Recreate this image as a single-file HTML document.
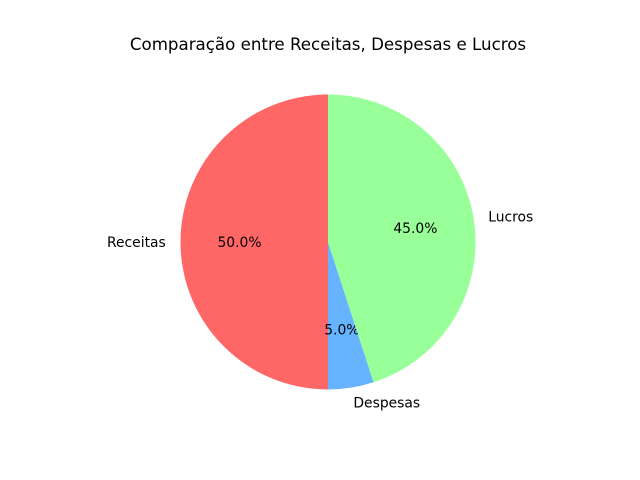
<!DOCTYPE html>
<html>
<head>
<meta charset="utf-8">
<style>
  html,body{margin:0;padding:0;background:#fff;}
  svg{display:block;font-family:"DejaVu Sans","Liberation Sans",sans-serif;}
</style>
</head>
<body>
<svg id="chart" width="640" height="480" viewBox="0 0 640 480">
  <text x="328" y="50" text-anchor="middle" font-size="16.67" fill="#000">Comparação entre Receitas, Despesas e Lucros</text>
</svg>
<script>
const categories = ["Receitas", "Despesas", "Lucros"];
const values = [50, 5, 45];
const pctLabels = ["50.0%", "5.0%", "45.0%"];
const colors = ["#ff6666", "#66b3ff", "#99ff99"];

const svg = document.getElementById('chart');
const NS = 'http://www.w3.org/2000/svg';
const cx = 328, cy = 242, r = 147.5;
const total = values.reduce((a, b) => a + b, 0);
function pt(deg, rad) {
  const a = deg * Math.PI / 180;
  return [cx + rad * Math.cos(a), cy - rad * Math.sin(a)];
}
let start = 90;
values.forEach((v, i) => {
  const sweep = v / total * 360;
  const end = start + sweep;
  const [x1, y1] = pt(start, r);
  const [x2, y2] = pt(end, r);
  const large = sweep > 180 ? 1 : 0;
  const p = document.createElementNS(NS, 'path');
  p.setAttribute('d', `M${cx},${cy} L${x1},${y1} A${r},${r} 0 ${large} 0 ${x2},${y2} Z`);
  p.setAttribute('fill', colors[i]);
  
  
  svg.appendChild(p);

  const mid = start + sweep / 2;
  const [lx, ly] = pt(mid, r * 1.1);
  const t = document.createElementNS(NS, 'text');
  t.setAttribute('x', lx);
  t.setAttribute('y', ly + 5);
  t.setAttribute('font-size', '13.89');
  t.setAttribute('text-anchor', Math.cos(mid * Math.PI / 180) < 0 ? 'end' : 'start');
  t.textContent = categories[i];
  
  
  svg.appendChild(t);

  const [px, py] = pt(mid, r * 0.6);
  const q = document.createElementNS(NS, 'text');
  q.setAttribute('x', px);
  q.setAttribute('y', py + 5);
  q.setAttribute('font-size', '13.89');
  q.setAttribute('text-anchor', 'middle');
  q.textContent = pctLabels[i];
  
  
  svg.appendChild(q);

  start = end;
});
</script>
</body>
</html>
